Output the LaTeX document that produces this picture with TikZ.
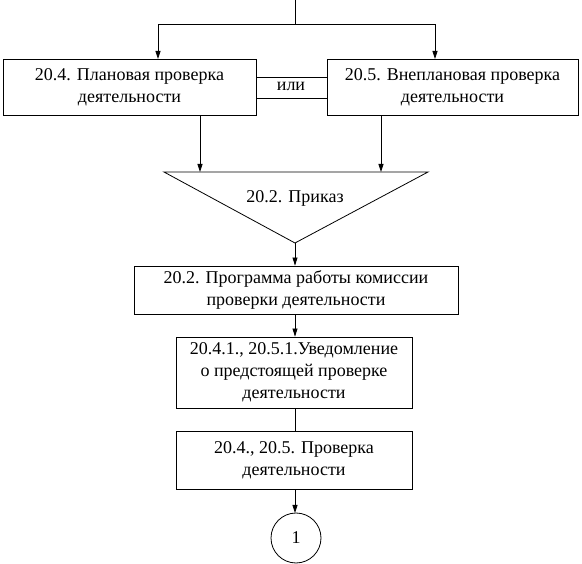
\documentclass[tikz,border=0pt]{standalone}
\usepackage{fontspec}
\setmainfont{Liberation Serif}
\usetikzlibrary{arrows.meta}
\begin{document}
\begin{tikzpicture}[x=1pt,y=-1pt,
	block/.style={ draw, line width=0.8pt, inner sep=0pt, align=center, font=\fontsize{18}{22}\selectfont },
	label/.style={ inner sep=0pt, align=center, font=\fontsize{18}{22}\selectfont },
	arr/.style={ line width=0.8pt, -{Triangle[length=8pt,width=5pt]} },
	line/.style={ line width=0.8pt }
]
\useasboundingbox (0,0) rectangle (582,564);

\coordinate (start) at (295,0);
\coordinate (fork) at (295,24);
\node at (129.5,87) (plan) [block,minimum width=253pt,minimum height=56pt] {20.4. Плановая проверка\\деятельности};
\node at (452.5,87) (unplan) [block,minimum width=251pt,minimum height=56pt] {20.5. Внеплановая проверка\\деятельности};
\draw[line] (start) -- (fork);
\draw[arr] (fork) -| (158,59);
\draw[arr] (fork) -| (435,59);
\draw[line] ([yshift=10pt]plan.east) -- ([yshift=10pt]unplan.west);
\draw[line] ([yshift=-11pt]plan.east) -- ([yshift=-11pt]unplan.west);
\node at (291,86) (or) [label] {или};

% triangle
\coordinate (tri-l) at (164,172);
\coordinate (tri-r) at (428,172);
\coordinate (tri-tip) at (295,243);
\draw[line,line join=miter] (tri-l) -- (tri-r) -- (tri-tip) -- cycle;
\node at (295,198) (order) [label] {20.2. Приказ};
\draw[arr] (plan.south -| 200,0) -- (200,172);
\draw[arr] (unplan.south -| 381,0) -- (381,172);

\node at (296,290) (program) [block,minimum width=324pt,minimum height=48pt] {20.2. Программа работы комиссии\\проверки деятельности};
\draw[arr] (tri-tip) -- (program.north -| tri-tip);
\node at (294,372.5) (notice) [block,minimum width=236pt,minimum height=71pt] {20.4.1., 20.5.1.Уведомление\\о предстоящей проверке\\деятельности};
\draw[arr] (program.south -| 295,0) -- (notice.north -| 295,0);
\node at (294,460) (check) [block,minimum width=236pt,minimum height=58pt] {20.4., 20.5. Проверка\\деятельности};
\draw[line] (notice.south -| 295,0) -- (check.north -| 295,0);
\draw[arr] (check.south -| 295,0) -- (295,513);
\node at (296,538) (next) [block,circle,minimum size=50pt] {1};

\end{tikzpicture}
\end{document}
